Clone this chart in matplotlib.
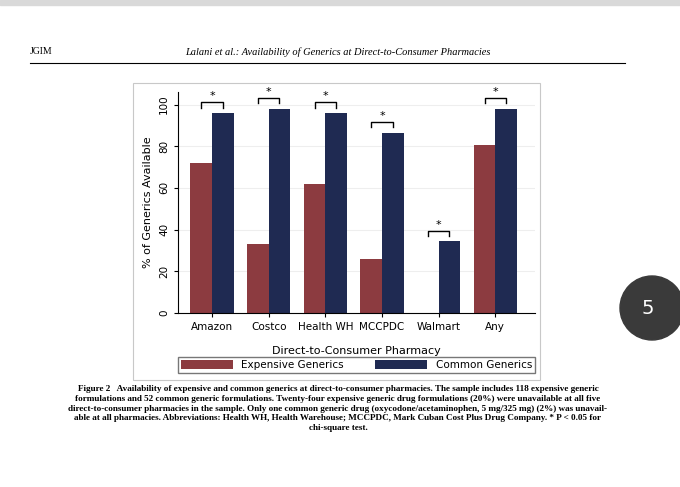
import matplotlib
matplotlib.use("Agg")
import matplotlib.pyplot as plt
from matplotlib.patches import Rectangle, Ellipse

categories = ["Amazon", "Costco", "Health WH", "MCCPDC", "Walmart", "Any"]
expensive = [72, 33, 62, 26, 0, 80.5]
common = [96, 98, 96, 86.5, 34.5, 98]
yticks = [0, 20, 40, 60, 80, 100]

RED = "#8c3b40"
NAVY = "#1f2a52"

fig = plt.figure(figsize=(6.8, 4.87), dpi=100)
fig.patch.set_facecolor("white")
W, H = 680, 487
def fx(x): return x / W
def fy(y): return 1 - y / H

fig.patches.append(Rectangle((0, fy(5)), 1, 5 / H, transform=fig.transFigure, color="#d9d9d9", zorder=0))
fig.text(fx(30), fy(52), "JGIM", fontsize=7, family="Liberation Serif", va="center")
fig.text(fx(338), fy(52), "Lalani et al.: Availability of Generics at Direct-to-Consumer Pharmacies",
         fontsize=7.5, family="Liberation Serif", style="italic", va="center", ha="center")
fig.add_artist(plt.Line2D([fx(30), fx(625)], [fy(63), fy(63)], color="black", lw=0.8, transform=fig.transFigure))
fig.patches.append(Rectangle((fx(133), fy(380)), (540 - 133) / W, (380 - 83) / H, transform=fig.transFigure,
                             facecolor="white", edgecolor="#c8c8c8", lw=0.8, zorder=-1))
fig.patches.append(Ellipse((fx(652), fy(308)), 64 / W, 64 / H, transform=fig.transFigure, color="#3a3a3a", zorder=1))
fig.text(fx(648), fy(308), "5", fontsize=14, color="white", ha="center", va="center")

ax = fig.add_axes([fx(178), fy(313), (535 - 178) / W, (313 - 92) / H])
ax.set_zorder(3)
ax.patch.set_alpha(0)
x = list(range(len(categories)))
w = 0.38
ax.bar([i - w / 2 for i in x], expensive, w, color=RED, label="Expensive Generics", zorder=2)
ax.bar([i + w / 2 for i in x], common, w, color=NAVY, label="Common Generics", zorder=2)
for i in x:
    top = common[i] + 5
    xl, xr = i - w / 2, i + w / 2
    ax.plot([xl, xl, xr, xr], [top - 2.5, top, top, top - 2.5], color="black", lw=1, zorder=3, clip_on=False)
    ax.text(i, top + 0.5, "*", ha="center", va="bottom", fontsize=8, clip_on=False)
ax.set_xlim(-0.6, 5.7)
ax.set_ylim(0, 106)
ax.set_yticks(yticks)
ax.set_yticklabels([str(t) for t in yticks], rotation=90, va="center", fontsize=7.5)
ax.set_xticks(x)
ax.set_xticklabels(categories, fontsize=7.5)
ax.yaxis.grid(True, color="#eeeeee", lw=0.8, zorder=0)
for s in ["top", "right"]:
    ax.spines[s].set_visible(False)
ax.spines["left"].set_linewidth(0.8)
ax.spines["bottom"].set_linewidth(0.8)
ax.tick_params(length=3, width=0.8)
ax.set_ylabel("% of Generics Available", fontsize=8)
ax.set_xlabel("Direct-to-Consumer Pharmacy", fontsize=8, labelpad=10)
ax.legend(loc="center", bbox_to_anchor=(0.5, (313 - 365) / (313 - 92)), ncol=2, fontsize=7.5,
          frameon=True, fancybox=False, edgecolor="#555555", handlelength=5, handleheight=0.9,
          columnspacing=3, borderpad=0.3)

caption = ("Figure 2   Availability of expensive and common generics at direct-to-consumer pharmacies. The sample includes 118 expensive generic\n"
           "formulations and 52 common generic formulations. Twenty-four expensive generic drug formulations (20%) were unavailable at all five\n"
           "direct-to-consumer pharmacies in the sample. Only one common generic drug (oxycodone/acetaminophen, 5 mg/325 mg) (2%) was unavail-\n"
           "able at all pharmacies. Abbreviations: Health WH, Health Warehouse; MCCPDC, Mark Cuban Cost Plus Drug Company. * P < 0.05 for\n"
           "chi-square test.")
fig.text(fx(338), fy(385), caption, fontsize=6.6, family="Liberation Serif", weight="bold",
         ha="center", va="top", multialignment="center", linespacing=1.3)

fig.savefig("out.png", dpi=100)
